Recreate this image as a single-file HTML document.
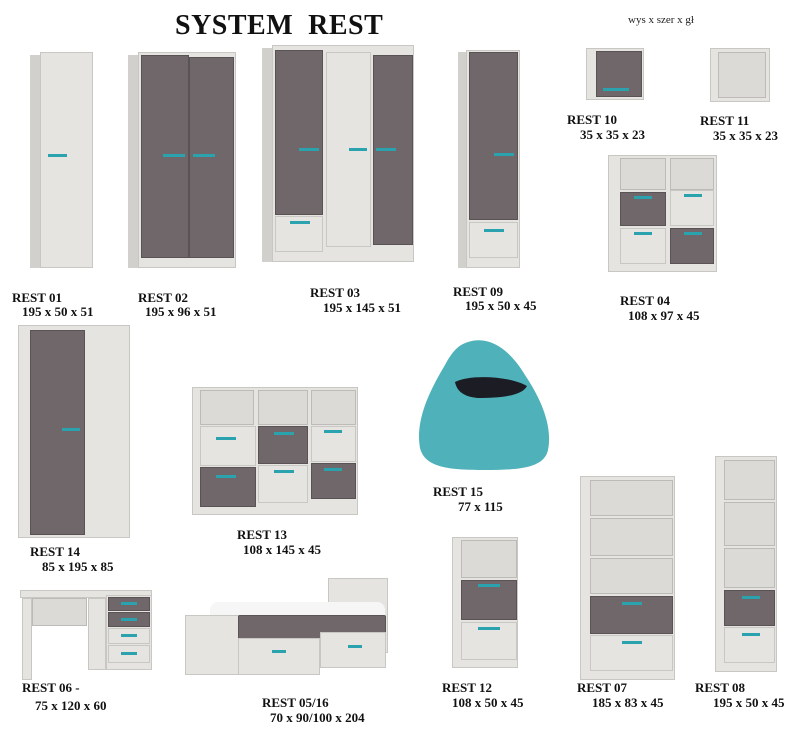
<!DOCTYPE html>
<html><head><meta charset="utf-8"><style>
body{margin:0;background:#fff;width:800px;height:732px;position:relative;overflow:hidden;font-family:"Liberation Serif",serif}
div,svg{position:absolute;box-sizing:border-box}
.w{background:#e6e4e1;border:1px solid #c9c7c4}
.s{background:#d2d0cd}
.g{background:#6f6769;border:1px solid #5a5355}
.o{background:#dcdad6;border:1px solid #bdbbb8}
.h{background:#2aa3ae;height:3px}
.t{font-weight:bold;font-size:13px;color:#111;white-space:nowrap}
</style></head><body>
<div class="t" style="left:175px;top:10px;font-size:28px;letter-spacing:0.5px">SYSTEM&nbsp; REST</div>
<div style="left:628px;top:14px;font-size:11px;color:#222">wys x szer x gł</div>

<!-- REST 01 -->
<div class="s" style="left:30px;top:55px;width:12px;height:213px"></div>
<div class="w" style="left:40px;top:52px;width:53px;height:216px"></div>
<div class="h" style="left:48px;top:154px;width:19px"></div>

<!-- REST 02 -->
<div class="s" style="left:128px;top:55px;width:14px;height:213px"></div>
<div class="w" style="left:138px;top:52px;width:98px;height:216px"></div>
<div class="g" style="left:141px;top:55px;width:48px;height:203px"></div>
<div class="g" style="left:189px;top:57px;width:45px;height:201px"></div>
<div class="h" style="left:163px;top:154px;width:22px"></div>
<div class="h" style="left:193px;top:154px;width:22px"></div>

<!-- REST 03 -->
<div class="s" style="left:262px;top:48px;width:14px;height:214px"></div>
<div class="w" style="left:272px;top:45px;width:142px;height:217px"></div>
<div class="g" style="left:275px;top:50px;width:48px;height:165px"></div>
<div class="w" style="left:275px;top:216px;width:48px;height:36px"></div>
<div class="w" style="left:326px;top:52px;width:45px;height:195px"></div>
<div class="g" style="left:373px;top:55px;width:40px;height:190px"></div>
<div class="h" style="left:299px;top:148px;width:20px"></div>
<div class="h" style="left:349px;top:148px;width:18px"></div>
<div class="h" style="left:376px;top:148px;width:20px"></div>
<div class="h" style="left:290px;top:221px;width:20px"></div>

<!-- REST 09 -->
<div class="s" style="left:458px;top:52px;width:12px;height:216px"></div>
<div class="w" style="left:466px;top:50px;width:54px;height:218px"></div>
<div class="g" style="left:469px;top:52px;width:49px;height:168px"></div>
<div class="w" style="left:469px;top:222px;width:49px;height:36px"></div>
<div class="h" style="left:494px;top:153px;width:20px"></div>
<div class="h" style="left:484px;top:229px;width:20px"></div>

<!-- REST 10 -->
<div class="w" style="left:586px;top:48px;width:58px;height:52px"></div>
<div class="g" style="left:596px;top:51px;width:46px;height:46px"></div>
<div class="h" style="left:603px;top:88px;width:26px"></div>
<!-- REST 11 -->
<div class="w" style="left:710px;top:48px;width:60px;height:54px"></div>
<div class="o" style="left:718px;top:52px;width:48px;height:46px"></div>

<!-- REST 04 -->
<div class="w" style="left:608px;top:155px;width:109px;height:117px"></div>
<div class="o" style="left:620px;top:158px;width:46px;height:32px"></div>
<div class="o" style="left:670px;top:158px;width:44px;height:32px"></div>
<div class="g" style="left:620px;top:192px;width:46px;height:34px"></div>
<div class="w" style="left:670px;top:190px;width:44px;height:36px"></div>
<div class="w" style="left:620px;top:228px;width:46px;height:36px"></div>
<div class="g" style="left:670px;top:228px;width:44px;height:36px"></div>
<div class="h" style="left:634px;top:196px;width:18px"></div>
<div class="h" style="left:684px;top:194px;width:18px"></div>
<div class="h" style="left:634px;top:232px;width:18px"></div>
<div class="h" style="left:684px;top:232px;width:18px"></div>

<div class="t" style="left:12px;top:290px">REST 01</div>
<div class="t" style="left:22px;top:304px">195 x 50 x 51</div>
<div class="t" style="left:138px;top:290px">REST 02</div>
<div class="t" style="left:145px;top:304px">195 x 96 x 51</div>
<div class="t" style="left:310px;top:285px">REST 03</div>
<div class="t" style="left:323px;top:300px">195 x 145 x 51</div>
<div class="t" style="left:453px;top:284px">REST 09</div>
<div class="t" style="left:465px;top:298px">195 x 50 x 45</div>
<div class="t" style="left:567px;top:112px">REST 10</div>
<div class="t" style="left:580px;top:127px">35 x 35 x 23</div>
<div class="t" style="left:700px;top:113px">REST 11</div>
<div class="t" style="left:713px;top:128px">35 x 35 x 23</div>
<div class="t" style="left:620px;top:293px">REST 04</div>
<div class="t" style="left:628px;top:308px">108 x 97 x 45</div>

<!-- REST 14 -->
<div class="w" style="left:18px;top:325px;width:112px;height:213px"></div>
<div class="g" style="left:30px;top:330px;width:55px;height:205px"></div>
<div class="h" style="left:62px;top:428px;width:18px"></div>

<!-- REST 13 -->
<div class="w" style="left:192px;top:387px;width:166px;height:128px"></div>
<div class="o" style="left:200px;top:390px;width:54px;height:35px"></div>
<div class="o" style="left:258px;top:390px;width:50px;height:35px"></div>
<div class="o" style="left:311px;top:390px;width:45px;height:35px"></div>
<div class="w" style="left:200px;top:426px;width:56px;height:40px"></div>
<div class="g" style="left:258px;top:426px;width:50px;height:38px"></div>
<div class="w" style="left:311px;top:426px;width:45px;height:36px"></div>
<div class="g" style="left:200px;top:467px;width:56px;height:40px"></div>
<div class="w" style="left:258px;top:465px;width:50px;height:38px"></div>
<div class="g" style="left:311px;top:463px;width:45px;height:36px"></div>
<div class="h" style="left:216px;top:437px;width:20px"></div>
<div class="h" style="left:274px;top:432px;width:20px"></div>
<div class="h" style="left:324px;top:430px;width:18px"></div>
<div class="h" style="left:216px;top:475px;width:20px"></div>
<div class="h" style="left:274px;top:470px;width:20px"></div>
<div class="h" style="left:324px;top:468px;width:18px"></div>

<!-- REST 15 -->
<svg style="left:0;top:0" width="800" height="732">
<path d="M468,342 C490,335 510,350 525,375 C545,405 552,430 548,450 C544,468 520,470 485,470 C450,470 425,468 420,448 C415,420 430,390 445,365 C452,352 458,345 468,342 Z" fill="#4fb1b9"/>
<path d="M455,382 C470,374 510,376 527,386 C522,396 500,398 478,398 C465,397 457,392 455,382 Z" fill="#1c1c24"/>
</svg>

<div class="t" style="left:30px;top:544px">REST 14</div>
<div class="t" style="left:42px;top:559px">85 x 195 x 85</div>
<div class="t" style="left:237px;top:527px">REST 13</div>
<div class="t" style="left:243px;top:542px">108 x 145 x 45</div>
<div class="t" style="left:433px;top:484px">REST 15</div>
<div class="t" style="left:458px;top:499px">77 x 115</div>

<!-- REST 06 desk -->
<div class="w" style="left:20px;top:590px;width:132px;height:8px"></div>
<div class="w" style="left:22px;top:598px;width:10px;height:82px"></div>
<div class="o" style="left:32px;top:598px;width:55px;height:28px"></div>
<div class="w" style="left:88px;top:598px;width:18px;height:72px"></div>
<div class="w" style="left:106px;top:595px;width:46px;height:75px"></div>
<div class="g" style="left:108px;top:597px;width:42px;height:14px"></div>
<div class="g" style="left:108px;top:612px;width:42px;height:15px"></div>
<div class="w" style="left:108px;top:628px;width:42px;height:16px"></div>
<div class="w" style="left:108px;top:645px;width:42px;height:18px"></div>
<div class="h" style="left:121px;top:602px;width:16px"></div>
<div class="h" style="left:121px;top:618px;width:16px"></div>
<div class="h" style="left:121px;top:634px;width:16px"></div>
<div class="h" style="left:121px;top:652px;width:16px"></div>

<!-- REST 05/16 bed -->
<div class="w" style="left:328px;top:578px;width:60px;height:75px"></div>
<div style="left:210px;top:602px;width:175px;height:30px;background:#f6f6f6;border-radius:8px"></div>
<div class="w" style="left:185px;top:615px;width:55px;height:60px"></div>
<div class="g" style="left:238px;top:615px;width:148px;height:25px;border-radius:2px"></div>
<div class="w" style="left:238px;top:638px;width:82px;height:37px"></div>
<div class="w" style="left:320px;top:632px;width:66px;height:36px"></div>
<div class="h" style="left:272px;top:650px;width:14px"></div>
<div class="h" style="left:348px;top:645px;width:14px"></div>

<!-- REST 12 -->
<div class="w" style="left:452px;top:537px;width:66px;height:131px"></div>
<div class="o" style="left:461px;top:540px;width:56px;height:38px"></div>
<div class="g" style="left:461px;top:580px;width:56px;height:40px"></div>
<div class="w" style="left:461px;top:622px;width:56px;height:38px"></div>
<div class="h" style="left:478px;top:584px;width:22px"></div>
<div class="h" style="left:478px;top:627px;width:22px"></div>

<!-- REST 07 -->
<div class="w" style="left:580px;top:476px;width:95px;height:204px"></div>
<div class="o" style="left:590px;top:480px;width:83px;height:36px"></div>
<div class="o" style="left:590px;top:518px;width:83px;height:38px"></div>
<div class="o" style="left:590px;top:558px;width:83px;height:36px"></div>
<div class="g" style="left:590px;top:596px;width:83px;height:38px"></div>
<div class="w" style="left:590px;top:635px;width:83px;height:36px"></div>
<div class="h" style="left:622px;top:602px;width:20px"></div>
<div class="h" style="left:622px;top:641px;width:20px"></div>

<!-- REST 08 -->
<div class="w" style="left:715px;top:456px;width:62px;height:216px"></div>
<div class="o" style="left:724px;top:460px;width:51px;height:40px"></div>
<div class="o" style="left:724px;top:502px;width:51px;height:44px"></div>
<div class="o" style="left:724px;top:548px;width:51px;height:40px"></div>
<div class="g" style="left:724px;top:590px;width:51px;height:36px"></div>
<div class="w" style="left:724px;top:627px;width:51px;height:36px"></div>
<div class="h" style="left:742px;top:596px;width:18px"></div>
<div class="h" style="left:742px;top:633px;width:18px"></div>

<div class="t" style="left:22px;top:680px">REST 06 -</div>
<div class="t" style="left:35px;top:698px">75 x 120 x 60</div>
<div class="t" style="left:262px;top:695px">REST 05/16</div>
<div class="t" style="left:270px;top:710px">70 x 90/100 x 204</div>
<div class="t" style="left:442px;top:680px">REST 12</div>
<div class="t" style="left:452px;top:695px">108 x 50 x 45</div>
<div class="t" style="left:577px;top:680px">REST 07</div>
<div class="t" style="left:592px;top:695px">185 x 83 x 45</div>
<div class="t" style="left:695px;top:680px">REST 08</div>
<div class="t" style="left:713px;top:695px">195 x 50 x 45</div>
</body></html>
